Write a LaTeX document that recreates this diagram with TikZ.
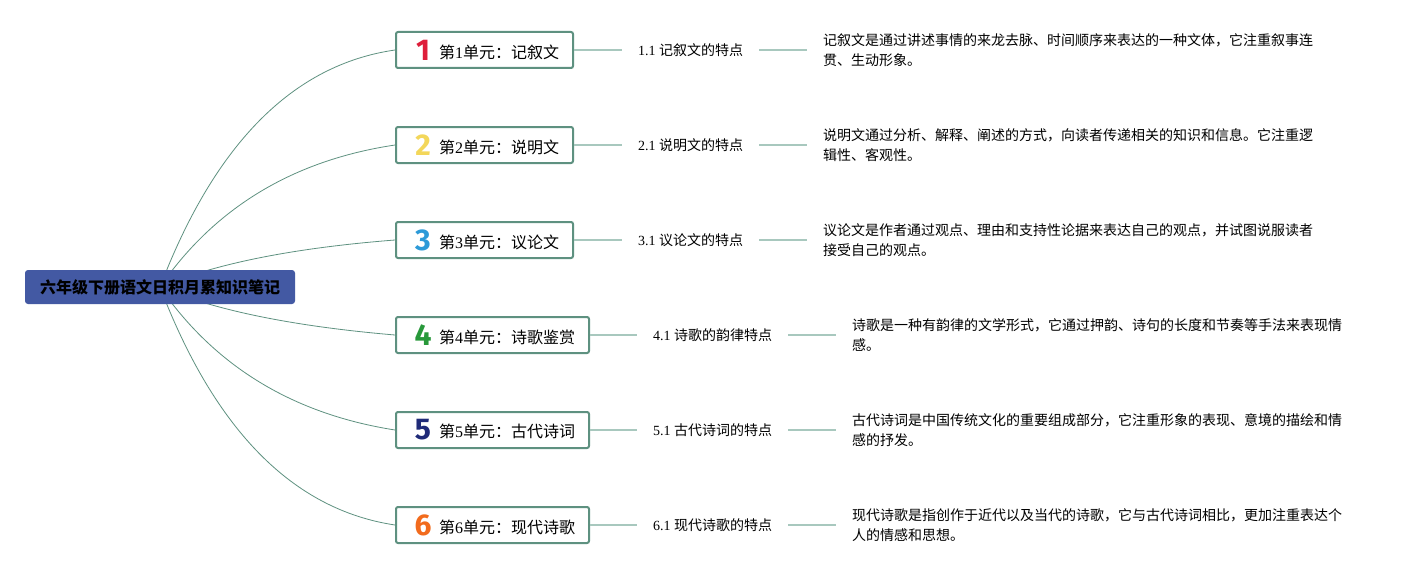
\documentclass[tikz,border=0pt]{standalone}
\usepackage{fontspec}
\setmainfont{Liberation Serif}
\newfontfamily\cjk{Noto Sans CJK SC}
\newfontfamily\numfont{Fira Sans}
\usetikzlibrary{backgrounds}
\definecolor{rootblue}{RGB}{67,89,163}
\definecolor{boxline}{RGB}{94,145,128}
\definecolor{curveline}{RGB}{94,145,128}
\definecolor{hline}{RGB}{168,200,190}
\definecolor{nA}{RGB}{222,30,58}
\definecolor{nB}{RGB}{243,215,90}
\definecolor{nC}{RGB}{44,154,216}
\definecolor{nD}{RGB}{40,152,58}
\definecolor{nE}{RGB}{31,42,120}
\definecolor{nF}{RGB}{242,107,29}
\newcommand\zh[1]{{\cjk #1}}
\newcommand\bignum[2]{\makebox[26pt][c]{\raisebox{-2pt}{\numfont\bfseries\fontsize{30}{30}\selectfont\color{#1}#2}}\hspace{3pt}}
\begin{document}
\begin{tikzpicture}[x=1pt,y=-1pt,
  rootbox/.style={fill=rootblue, rounded corners=3pt, minimum height=34pt, minimum width=270pt, inner xsep=0pt, inner ysep=0pt, font=\cjk\bfseries\fontsize{16}{20}\selectfont, text=black},
  unitbox/.style={draw=boxline, line width=2pt, rounded corners=2pt, fill=white, minimum height=36pt, inner ysep=0pt, inner xsep=14pt, anchor=west, font=\fontsize{16}{18}\selectfont},
  sublabel/.style={anchor=west, inner xsep=16pt, font=\fontsize{14}{16}\selectfont},
  desc/.style={anchor=west, inner xsep=16pt, align=left, font=\cjk\fontsize{14}{20}\selectfont},
  branch/.style={draw=curveline, line width=0.8pt},
  twig/.style={draw=hline, line width=2pt}]
\useasboundingbox (0,0) rectangle (1412,575);

\node[rootbox] (root) at (160,287) {六年级下册语文日积月累知识笔记};

\node[unitbox] (u1) at (395,50)  {\bignum{nA}{1}\zh{第}1\zh{单元：记叙文}};
\node[unitbox] (u2) at (395,145) {\bignum{nB}{2}\zh{第}2\zh{单元：说明文}};
\node[unitbox] (u3) at (395,240) {\bignum{nC}{3}\zh{第}3\zh{单元：议论文}};
\node[unitbox] (u4) at (395,335) {\bignum{nD}{4}\zh{第}4\zh{单元：诗歌鉴赏}};
\node[unitbox] (u5) at (395,430) {\bignum{nE}{5}\zh{第}5\zh{单元：古代诗词}};
\node[unitbox] (u6) at (395,525) {\bignum{nF}{6}\zh{第}6\zh{单元：现代诗歌}};

\node[sublabel] (l1) at (622,50)  {1.1 \zh{记叙文的特点}};
\node[sublabel] (l2) at (622,145) {2.1 \zh{说明文的特点}};
\node[sublabel] (l3) at (622,240) {3.1 \zh{议论文的特点}};
\node[sublabel] (l4) at (637,335) {4.1 \zh{诗歌的韵律特点}};
\node[sublabel] (l5) at (637,430) {5.1 \zh{古代诗词的特点}};
\node[sublabel] (l6) at (637,525) {6.1 \zh{现代诗歌的特点}};

\node[desc] (d1) at (807,50)  {记叙文是通过讲述事情的来龙去脉、时间顺序来表达的一种文体，它注重叙事连\\贯、生动形象。};
\node[desc] (d2) at (807,145) {说明文通过分析、解释、阐述的方式，向读者传递相关的知识和信息。它注重逻\\辑性、客观性。};
\node[desc] (d3) at (807,240) {议论文是作者通过观点、理由和支持性论据来表达自己的观点，并试图说服读者\\接受自己的观点。};
\node[desc] (d4) at (836,335) {诗歌是一种有韵律的文学形式，它通过押韵、诗句的长度和节奏等手法来表现情\\感。};
\node[desc] (d5) at (836,430) {古代诗词是中国传统文化的重要组成部分，它注重形象的表现、意境的描绘和情\\感的抒发。};
\node[desc] (d6) at (836,525) {现代诗歌是指创作于近代以及当代的诗歌，它与古代诗词相比，更加注重表达个\\人的情感和思想。};

\begin{scope}[on background layer]
\fill[white] (0,0) rectangle (1412,575);
\draw[branch] (root.center) .. controls (214.7,143.7) and (293,64.7) .. (u1.west);
\draw[branch] (root.center) .. controls (214.7,207.7) and (293,160.3) .. (u2.west);
\draw[branch] (root.center) .. controls (214.7,263.7) and (293,248) .. (u3.west);
\draw[branch] (root.center) .. controls (214.7,310.3) and (293,326.3) .. (u4.west);
\draw[branch] (root.center) .. controls (214.7,366.3) and (293,414) .. (u5.west);
\draw[branch] (root.center) .. controls (214.7,430.3) and (293,509.7) .. (u6.west);
\end{scope}

\foreach \i in {1,...,6}{
  \draw[twig] (u\i.east) -- (l\i.west);
  \draw[twig] (l\i.east) -- (d\i.west);
}
\end{tikzpicture}
\end{document}
